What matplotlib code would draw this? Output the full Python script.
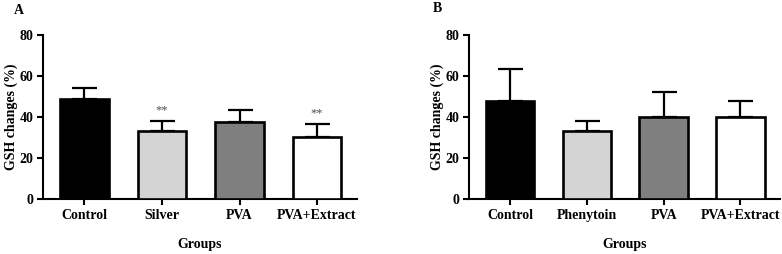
import matplotlib
matplotlib.use("Agg")
import matplotlib.pyplot as plt
import numpy as np

plt.rcParams['font.family'] = ['Liberation Serif', 'DejaVu Serif']
plt.rcParams['font.weight'] = 'bold'

# panel A
groups_a = ['Control', 'Silver', 'PVA', 'PVA+Extract']
mean_a = [48.9, 33.3, 37.8, 30.2]
err_a = [5.2, 5.0, 5.8, 6.3]
sig_a = ['', '**', '', '**']

# panel B
groups_b = ['Control', 'Phenytoin', 'PVA', 'PVA+Extract']
mean_b = [47.6, 33.3, 40.0, 39.9]
err_b = [15.8, 5.0, 12.3, 7.7]
sig_b = ['', '', '', '']

bar_colors = ['#000000', '#d4d4d4', '#7f7f7f', '#ffffff']


def draw_panel(ax, groups, means, errs, sigs, letter):
    x = np.arange(len(groups))
    ax.bar(x, means, width=0.63, color=bar_colors, edgecolor='black',
           linewidth=1.9, zorder=3)
    ax.errorbar(x, means, yerr=[np.zeros(len(errs)), errs], fmt='none',
                ecolor='black', elinewidth=1.6, capsize=9, capthick=1.6,
                zorder=2)
    for xi, m, e, s in zip(x, means, errs, sigs):
        if s:
            ax.text(xi, m + e + 2.2, s, ha='center', va='bottom',
                    fontsize=9, color='#4d4d4d', fontweight='normal')
    ax.set_xlim(-0.53, 3.51)
    ax.set_ylim(0, 80)
    ax.set_yticks([0, 20, 40, 60, 80])
    ax.set_xticks(x)
    ax.set_xticklabels(groups)
    ax.tick_params(axis='both', labelsize=10, width=1.5, length=4,
                   direction='out', pad=3)
    ax.spines['top'].set_visible(False)
    ax.spines['right'].set_visible(False)
    ax.spines['left'].set_linewidth(1.5)
    ax.spines['bottom'].set_linewidth(1.5)
    ax.set_ylabel('GSH changes (%)', fontsize=10, fontweight='bold', labelpad=1)
    ax.set_xlabel('Groups', fontsize=10, fontweight='bold', labelpad=12)
    for lab in ax.get_xticklabels() + ax.get_yticklabels():
        lab.set_fontweight('bold')


fig = plt.figure(figsize=(7.82, 2.54), dpi=100)
ax_a = fig.add_axes([0.0554, 0.2165, 0.4006, 0.6455])
ax_b = fig.add_axes([0.600, 0.2165, 0.397, 0.6455])

draw_panel(ax_a, groups_a, mean_a, err_a, sig_a, 'A')
draw_panel(ax_b, groups_b, mean_b, err_b, sig_b, 'B')

fig.text(0.018, 0.96, 'A', fontsize=10, fontweight='bold', va='center')
fig.text(0.553, 0.965, 'B', fontsize=10, fontweight='bold', va='center')

plt.savefig('out.png', dpi=100)
